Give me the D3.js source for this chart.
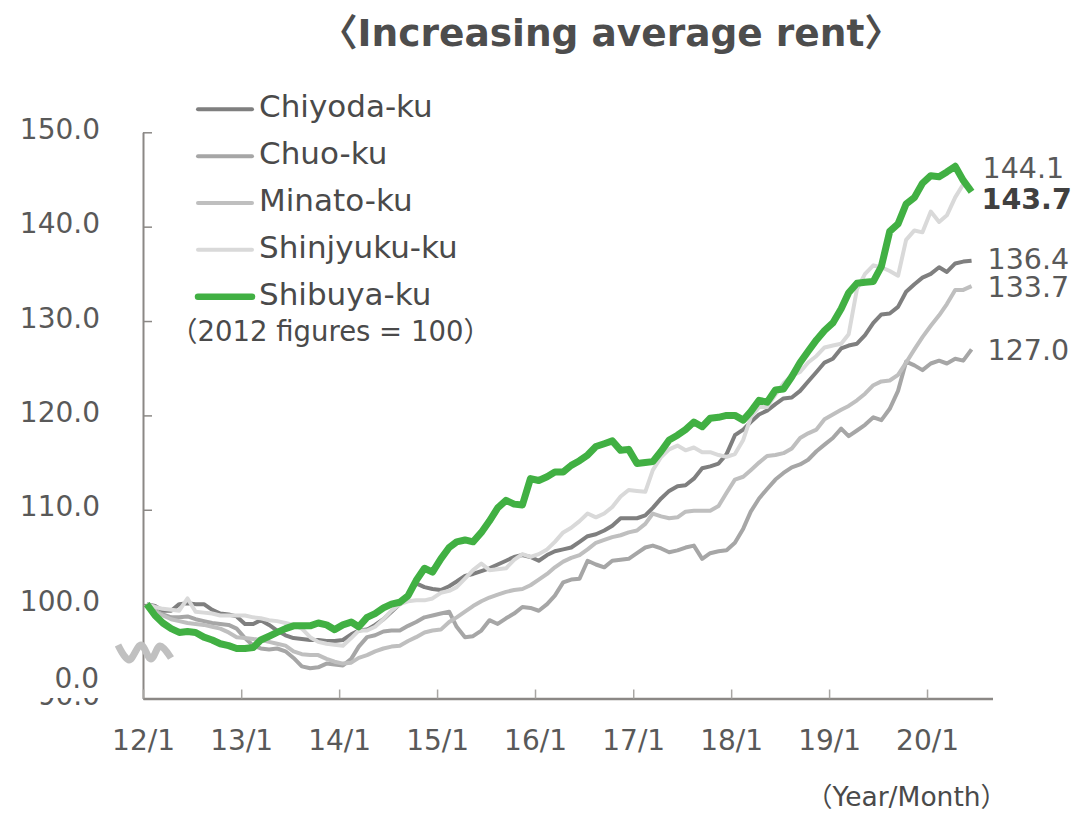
<!DOCTYPE html>
<html><head><meta charset="utf-8">
<script src="https://cdn.jsdelivr.net/npm/d3@7"></script>
<style>
body{margin:0;background:#fff;}
svg{display:block;}
text{font-family:"DejaVu Sans",Verdana,"Noto Sans CJK JP",sans-serif;}
</style>
</head><body>
<svg id="c" width="1091" height="816"></svg>
<script>
// ---------- DATA ----------
const monthCount = 102; // 2012/1 .. 2020/6 (monthly)
const months = d3.range(monthCount).map(i => new Date(2012, i, 15));

const seriesNames = ["Chiyoda-ku", "Chuo-ku", "Minato-ku", "Shinjyuku-ku", "Shibuya-ku"];

const chiyoda = [
100.0, 99.8, 99.3, 99.3, 100.0, 100.1, 100.0, 100.0, 99.4, 99.0, 98.9, 98.7,
97.9, 97.9, 98.3, 97.8, 97.2, 96.7, 96.4, 96.3, 96.2, 96.2, 96.1, 96.1,
96.2, 96.8, 97.2, 97.3, 97.8, 98.4, 99.2, 100.0, 101.0, 102.2, 101.8, 101.6,
101.5, 101.9, 102.4, 103.0, 103.2, 103.5, 103.8, 104.2, 104.6, 105.0, 105.2, 105.0,
104.6, 105.2, 105.6, 105.8, 106.0, 106.6, 107.2, 107.4, 107.8, 108.3, 109.1, 109.1,
109.1, 109.4, 110.2, 111.2, 112.0, 112.5, 112.6, 113.3, 114.4, 114.6, 114.9, 115.9,
117.9, 118.5, 119.3, 120.1, 120.5, 121.2, 121.8, 121.9, 122.6, 123.6, 124.6, 125.6,
126.0, 127.1, 127.4, 127.6, 128.5, 129.8, 130.7, 130.8, 131.5, 133.1, 133.9, 134.6,
135.0, 135.7, 135.2, 136.1, 136.3, 136.4];

const chuo = [
100.0, 99.3, 98.9, 98.6, 98.6, 98.7, 98.4, 98.2, 98.0, 97.9, 97.8, 97.4,
96.4, 95.6, 95.3, 95.2, 95.3, 95.0, 94.3, 93.4, 93.2, 93.3, 93.7, 93.6,
93.5, 94.2, 95.5, 96.5, 96.7, 97.1, 97.2, 97.2, 97.7, 98.1, 98.6, 98.8,
99.0, 99.2, 97.6, 96.5, 96.6, 97.2, 98.3, 97.9, 98.5, 99.0, 99.7, 99.6,
99.3, 100.0, 100.9, 102.3, 102.6, 102.7, 104.6, 104.2, 103.9, 104.6, 104.7, 104.8,
105.4, 106.0, 106.2, 105.9, 105.5, 105.7, 106.0, 106.2, 104.8, 105.4, 105.6, 105.7,
106.5, 108.0, 109.8, 111.2, 112.2, 113.2, 113.9, 114.5, 114.8, 115.3, 116.2, 116.9,
117.6, 118.6, 117.8, 118.4, 119.0, 119.8, 119.5, 120.7, 122.6, 125.7, 125.3, 124.8,
125.5, 125.8, 125.5, 126.0, 125.8, 127.0];

const minato = [
100.0, 99.2, 98.8, 98.4, 98.2, 98.0, 97.9, 97.8, 97.6, 97.4, 97.0, 96.5,
96.4, 96.3, 96.2, 96.0, 95.8, 95.6, 95.0, 94.7, 94.6, 94.6, 94.2, 93.9,
93.7, 93.8, 94.3, 94.6, 95.0, 95.3, 95.5, 95.6, 96.1, 96.5, 97.0, 97.2,
97.3, 98.1, 98.6, 99.2, 99.8, 100.3, 100.7, 101.0, 101.3, 101.5, 101.6, 102.0,
102.6, 103.2, 103.9, 104.5, 104.9, 105.2, 105.8, 106.5, 106.8, 107.1, 107.3, 107.6,
107.8, 108.5, 109.6, 109.3, 109.1, 109.2, 109.8, 109.9, 109.9, 109.9, 110.4, 111.8,
113.2, 113.5, 114.2, 115.0, 115.7, 115.8, 116.0, 116.5, 117.6, 118.1, 118.5, 119.6,
120.1, 120.6, 121.0, 121.6, 122.3, 123.2, 123.6, 123.7, 124.3, 125.6, 127.0, 128.3,
129.5, 130.6, 131.8, 133.3, 133.3, 133.7];

const shinjyuku = [
100.0, 99.7, 99.5, 99.4, 99.3, 100.6, 99.2, 99.1, 99.0, 98.8, 98.8, 98.8,
98.8, 98.6, 98.5, 98.3, 98.2, 98.0, 97.8, 97.4, 96.5, 96.0, 95.8, 95.7,
95.6, 96.4, 97.2, 97.2, 97.6, 98.4, 99.3, 100.0, 100.3, 100.4, 100.4, 100.6,
101.2, 101.4, 101.8, 102.7, 103.6, 104.3, 103.6, 103.7, 103.8, 104.7, 105.3, 105.0,
105.3, 105.8, 106.6, 107.6, 108.1, 108.8, 109.6, 109.2, 109.6, 110.3, 111.4, 112.1,
112.0, 111.9, 114.2, 115.6, 116.4, 116.8, 116.3, 116.6, 116.1, 116.1, 115.8, 115.6,
115.9, 117.4, 119.8, 120.9, 120.9, 122.2, 123.4, 124.2, 124.6, 125.6, 126.3, 127.2,
127.4, 127.6, 128.6, 133.4, 135.0, 135.9, 135.7, 135.3, 134.8, 138.6, 139.6, 139.4,
141.6, 140.5, 141.2, 143.1, 144.5, 144.1];

const shibuya = [
100.0, 98.8, 98.0, 97.4, 97.0, 97.1, 97.0, 96.5, 96.2, 95.8, 95.6, 95.3,
95.3, 95.4, 96.2, 96.6, 97.0, 97.4, 97.7, 97.7, 97.7, 98.0, 97.8, 97.3,
97.8, 98.1, 97.6, 98.6, 99.0, 99.6, 100.0, 100.2, 100.9, 102.5, 103.8, 103.4,
104.8, 106.0, 106.6, 106.8, 106.6, 107.6, 108.8, 110.2, 111.0, 110.6, 110.5, 113.3,
113.1, 113.5, 114.0, 114.0, 114.7, 115.2, 115.8, 116.7, 117.0, 117.3, 116.3, 116.4,
114.9, 115.0, 115.1, 116.2, 117.4, 117.9, 118.5, 119.3, 118.8, 119.7, 119.8, 120.0,
120.0, 119.5, 120.4, 121.6, 121.4, 122.7, 122.8, 124.1, 125.6, 126.8, 128.0, 129.0,
129.8, 131.3, 133.0, 134.0, 134.1, 134.2, 135.8, 139.5, 140.3, 142.4, 143.1, 144.6,
145.4, 145.3, 145.8, 146.4, 144.9, 143.7];

const xTickYears = [2012, 2013, 2014, 2015, 2016, 2017, 2018, 2019, 2020];
const xTickLabels = ["12/1", "13/1", "14/1", "15/1", "16/1", "17/1", "18/1", "19/1", "20/1"];
const yTicks = [90, 100, 110, 120, 130, 140, 150];

// ---------- STYLE ----------
const seriesData = [chiyoda, chuo, minato, shinjyuku, shibuya];
const colors = ["#7f7f7f", "#a6a6a6", "#bfbfbf", "#d9d9d9", "#41b043"];
const widths = [4, 4, 4, 4, 7];
const endLabelDy = [-2, 0, 1, -20, 7];
const endLabelDx = [16, 16, 16, 11, 10];
const endLabelBold = [false, false, false, false, true];

const svg = d3.select("#c");
const x = d3.scaleTime().domain([new Date(2012, 0, 1), new Date(2020, 8, 1)]).range([143, 992.5]);
const y = d3.scaleLinear().domain([90, 150]).range([698.5, 132.3]);
const axisColor = "#8b8885";
const textColor = "#595959";

// Title
svg.append("text").attr("x", 611).attr("y", 46).attr("text-anchor", "middle")
  .attr("font-size", 37.5).attr("font-weight", "bold").attr("fill", "#4d4d4d")
  .text("〈Increasing average rent〉");

// Y axis
const yAxis = svg.append("g").attr("transform", `translate(${x.range()[0]},0)`)
  .call(d3.axisLeft(y).tickValues(yTicks).tickFormat(d3.format(".1f"))
    .tickSizeInner(-9).tickSizeOuter(0).tickPadding(43));
yAxis.select(".domain").attr("stroke", axisColor).attr("stroke-width", 2);
yAxis.selectAll(".tick line").attr("stroke", axisColor).attr("stroke-width", 1.5);
yAxis.selectAll(".tick text").attr("font-size", 28).attr("fill", textColor)
  .attr("font-family", null).attr("y", -3);

// X axis
const xAxis = svg.append("g").attr("transform", `translate(0,${y(90)})`)
  .call(d3.axisBottom(x).tickValues(xTickYears.map(yr => new Date(yr, 0, 1)))
    .tickFormat((d, i) => xTickLabels[i]).tickSizeInner(-9).tickSizeOuter(0).tickPadding(32));
xAxis.select(".domain").attr("stroke", axisColor).attr("stroke-width", 2.5);
xAxis.selectAll(".tick line").attr("stroke", "#a8a6a3").attr("stroke-width", 1.5);
xAxis.selectAll(".tick text").attr("font-size", 28).attr("fill", textColor).attr("font-family", null);

// Axis-break cover and relabel
svg.append("rect").attr("x", 20).attr("y", 630).attr("width", 88).attr("height", y(90) - 630.5).attr("fill", "#fff");
svg.append("text").attr("x", 99).attr("y", 678).attr("dy", "0.35em").attr("text-anchor", "end")
  .attr("font-size", 28).attr("fill", textColor).text("0.0");

// Lines
const line = d3.line().x((d, i) => x(months[i])).y(d => y(d));
seriesData.forEach((s, k) => {
  svg.append("path").datum(s).attr("d", line).attr("fill", "none")
    .attr("stroke", colors[k]).attr("stroke-width", widths[k])
    .attr("stroke-linejoin", "round").attr("stroke-linecap", "butt");
});

// Axis break squiggle
const squiggle = [[118, 645], [129, 660], [141, 645], [151, 659], [160, 646], [171, 658]];
svg.append("path").attr("d", d3.line().curve(d3.curveCatmullRom.alpha(0.5))(squiggle))
  .attr("fill", "none").attr("stroke", "#c0c0c0").attr("stroke-width", 7)
  .attr("stroke-linejoin", "round").attr("stroke-linecap", "butt");

// End labels
seriesData.forEach((s, k) => {
  const last = s[s.length - 1];
  svg.append("text").attr("x", x(months[s.length - 1]) + endLabelDx[k])
    .attr("y", y(last) + endLabelDy[k]).attr("dy", "0.36em")
    .attr("font-size", 28.5).attr("font-weight", endLabelBold[k] ? "bold" : "normal")
    .attr("fill", endLabelBold[k] ? "#404040" : textColor)
    .text(d3.format(".1f")(last));
});

// Legend
const legend = svg.append("g");
seriesNames.forEach((n, k) => {
  const ly = 109.3 + k * 46.85;
  legend.append("line").attr("x1", 198).attr("x2", 252).attr("y1", ly).attr("y2", ly)
    .attr("stroke", colors[k]).attr("stroke-width", k === 4 ? 6.5 : 4).attr("stroke-linecap", "round");
  legend.append("text").attr("x", 259).attr("y", ly + 8).attr("font-size", 31)
    .attr("fill", "#4a4a4a").text(n);
});
legend.append("text").attr("x", 170).attr("y", 341).attr("font-size", 27.5)
  .attr("fill", "#4a4a4a").text("（2012 figures = 100）");

// Axis unit note
svg.append("text").attr("x", 806).attr("y", 806).attr("font-size", 26.5)
  .attr("fill", "#4a4a4a").text("（Year/Month）");
</script>
</body></html>
